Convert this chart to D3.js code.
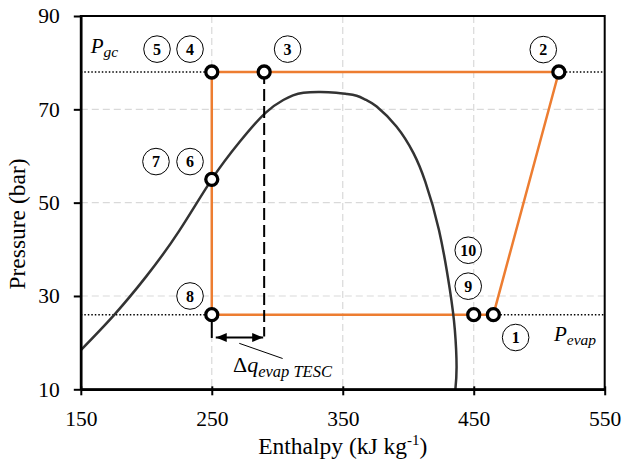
<!DOCTYPE html>
<html>
<head>
<meta charset="utf-8">
<script src="https://cdn.jsdelivr.net/npm/d3@7"></script>
<style>
  body { margin: 0; background: #fff; }
  svg { display: block; }
</style>
</head>
<body>
<div id="viz"></div>
<script>
// axis ticks
const hTicks = [150, 250, 350, 450, 550];
const pTicks = [10, 30, 50, 70, 90];

// cycle pressures (bar)
const pGc = 78;
const pEvap = 26;

// refrigeration cycle path: 8 -> 4 -> 2 -> 1 -> 8
const cycleH = [250, 250, 515, 465, 250];
const cycleP = [26, 78, 78, 26, 26];

// state points drawn as open circles
const stateH = [250, 290, 515, 250, 250, 450, 465];
const stateP = [78, 78, 78, 55, 26, 26, 26];

// saturation dome
const domeH = [150, 175, 200, 225, 250, 271.5, 290.8, 304.6, 312, 320, 333, 345, 353, 360.6, 368, 375.9, 391, 404, 413, 423.5, 431.8, 435.6, 436.9, 436];
const domeP = [18.4, 25.8, 34.2, 43.9, 55, 63.1, 69.2, 72, 73, 73.55, 73.7, 73.55, 73.3, 72.9, 72, 70.6, 66.3, 60.6, 54.5, 44.1, 31.3, 22.7, 14.8, 10];

// numbered state labels
const labelIds = ['5', '4', '3', '2', '7', '6', '8', '10', '9', '1'];
const labelH = [208.2, 233.4, 307.9, 503.1, 207.4, 233.4, 233.4, 445.8, 445.8, 482];
const labelP = [82.9, 82.9, 82.9, 82.8, 58.8, 58.8, 30.0, 39.8, 32.1, 21.1];

// TESC evaporator heat difference
const tescH = [250, 290];

const w = 623;
const h = 460;
const orange = '#ED7D31';
const serif = '"Liberation Serif", "Times New Roman", serif';

const x = d3.scaleLinear().domain([150, 550]).range([80.8, 604.7]);
const y = d3.scaleLinear().domain([10, 90]).range([389.3, 16]);

const svg = d3.select('#viz').
append('svg').
attr('width', w).
attr('height', h).
style('font-family', serif);

// grid
svg.append('g').
selectAll('line').
data(hTicks.slice(1, -1)).
enter().
append('line').
attr('x1', d => x(d)).attr('x2', d => x(d)).
attr('y1', y(90)).attr('y2', y(10)).
attr('stroke', '#d9d9d9').attr('stroke-width', 1.2).attr('stroke-dasharray', '7,4');

svg.append('g').
selectAll('line').
data(pTicks.slice(1, -1)).
enter().
append('line').
attr('x1', x(150)).attr('x2', x(550)).
attr('y1', d => y(d)).attr('y2', d => y(d)).
attr('stroke', '#d9d9d9').attr('stroke-width', 1.2).attr('stroke-dasharray', '7,4');

// dotted pressure lines
const dotted = [[150, 250, pGc], [515, 550, pGc], [150, 250, pEvap], [465, 550, pEvap]];
svg.append('g').
selectAll('line').
data(dotted).
enter().
append('line').
attr('x1', d => x(d[0])).attr('x2', d => x(d[1])).
attr('y1', d => y(d[2])).attr('y2', d => y(d[2])).
attr('stroke', '#000').attr('stroke-width', 1.5).attr('stroke-dasharray', '1.5,2');

// cycle
const cyc = d3.line().x(d => x(d[0])).y(d => y(d[1]));
svg.append('path').
attr('d', cyc(cycleH.map((v, i) => [v, cycleP[i]]))).
attr('fill', 'none').
attr('stroke', orange).
attr('stroke-width', 2.5);

// dome
const dome = d3.line().x(d => x(d[0])).y(d => y(d[1])).curve(d3.curveNatural);
svg.append('path').
attr('d', dome(domeH.map((v, i) => [v, domeP[i]]))).
attr('fill', 'none').
attr('stroke', '#333').
attr('stroke-width', 2.5);

// TESC marker lines
svg.append('line').
attr('x1', x(tescH[1])).attr('x2', x(tescH[1])).
attr('y1', y(pGc)).attr('y2', y(21.3)).
attr('stroke', '#000').attr('stroke-width', 2).attr('stroke-dasharray', '12,5');

svg.append('line').
attr('x1', x(tescH[0])).attr('x2', x(tescH[0])).
attr('y1', y(pEvap)).attr('y2', y(21)).
attr('stroke', '#000').attr('stroke-width', 2);

const defs = svg.append('defs');
['s', 'e'].forEach(k => {
  defs.append('marker').
  attr('id', 'arr-' + k).
  attr('viewBox', '0 0 11 9').
  attr('refX', k == 'e' ? 11 : 0).
  attr('refY', 4.5).
  attr('markerWidth', 11).
  attr('markerHeight', 9).
  attr('markerUnits', 'userSpaceOnUse').
  attr('orient', 'auto').
  append('path').
  attr('d', k == 'e' ? 'M0,0L11,4.5L0,9Z' : 'M11,0L0,4.5L11,9Z').
  attr('fill', '#000');
});

svg.append('line').
attr('x1', x(tescH[0]) + 4).attr('x2', x(tescH[1]) - 1).
attr('y1', y(21.1)).attr('y2', y(21.1)).
attr('stroke', '#000').attr('stroke-width', 2).
attr('marker-start', 'url(#arr-s)').
attr('marker-end', 'url(#arr-e)');

svg.append('line').
attr('x1', x(271)).attr('x2', x(304.1)).
attr('y1', y(19.85)).attr('y2', y(16.6)).
attr('stroke', '#000').attr('stroke-width', 1);

const dq = svg.append('text').
attr('x', 233).
attr('y', 372).
style('font-size', '22px');
dq.append('tspan').text('Δ');
dq.append('tspan').style('font-style', 'italic').text('q');
dq.append('tspan').style('font-style', 'italic').style('font-size', '16.5px').attr('dy', 5).text('evap TESC');

// P labels
const pgcT = svg.append('text').attr('x', 90.7).attr('y', 53).style('font-size', '21px').style('font-style', 'italic');
pgcT.append('tspan').text('P');
pgcT.append('tspan').attr('dy', 4).style('font-size', '15.5px').text('gc');

const pevT = svg.append('text').attr('x', 554).attr('y', 341).style('font-size', '21px').style('font-style', 'italic');
pevT.append('tspan').text('P');
pevT.append('tspan').attr('dy', 4).style('font-size', '15.5px').text('evap');

// state points
svg.append('g').
selectAll('circle').
data(stateH).
enter().
append('circle').
attr('cx', d => x(d)).
attr('cy', (d, i) => y(stateP[i])).
attr('r', 6).
attr('fill', '#fff').
attr('stroke', '#000').
attr('stroke-width', 3.3);

// numbered labels
const lab = svg.append('g').
selectAll('g').
data(labelIds).
enter().
append('g').
attr('transform', (d, i) => 'translate(' + x(labelH[i]) + ',' + y(labelP[i]) + ')');

lab.append('circle').
attr('r', 13.3).
attr('fill', '#fff').
attr('stroke', '#000').
attr('stroke-width', 1);

lab.append('text').
attr('text-anchor', 'middle').
attr('dy', '0.35em').
style('font-size', '16px').
style('font-weight', 'bold').
text(d => d);

// frame
svg.append('rect').
attr('x', x(150)).attr('y', y(90)).
attr('width', x(550) - x(150)).attr('height', y(10) - y(90)).
attr('fill', 'none').attr('stroke', '#000').attr('stroke-width', 2);

// axes
const yAxis = d3.axisLeft(y).tickValues(pTicks).tickSize(7).tickSizeOuter(0).tickPadding(14);
const gy = svg.append('g').
attr('transform', 'translate(' + x(150) + ',0)').
call(yAxis);
gy.select('.domain').attr('stroke-width', 2.5);
gy.selectAll('.tick line').attr('stroke-width', 2);
gy.selectAll('text').style('font-size', '21.5px').style('font-family', serif).attr('fill', '#000');

const xAxis = d3.axisBottom(x).tickValues(hTicks).tickSize(6).tickSizeOuter(0);
const gx = svg.append('g').
attr('transform', 'translate(0,' + y(10) + ')').
call(xAxis);
gx.select('.domain').attr('stroke-width', 2.5);
gx.selectAll('.tick line').attr('y1', -3).attr('y2', 6).attr('stroke-width', 2);
gx.selectAll('text').attr('y', 37).attr('dy', 0).style('font-size', '21.5px').style('font-family', serif).attr('fill', '#000');

// axis titles
const xt = svg.append('text').
attr('x', (x(150) + x(550)) / 2).
attr('y', 454).
attr('text-anchor', 'middle').
style('font-size', '23.5px');
xt.append('tspan').text('Enthalpy (kJ kg');
xt.append('tspan').attr('dy', -9).style('font-size', '15px').text('-1');
xt.append('tspan').attr('dy', 9).text(')');

svg.append('text').
attr('transform', 'translate(25,224) rotate(-90)').
attr('text-anchor', 'middle').
style('font-size', '23.5px').
text('Pressure (bar)');
</script>
</body>
</html>
